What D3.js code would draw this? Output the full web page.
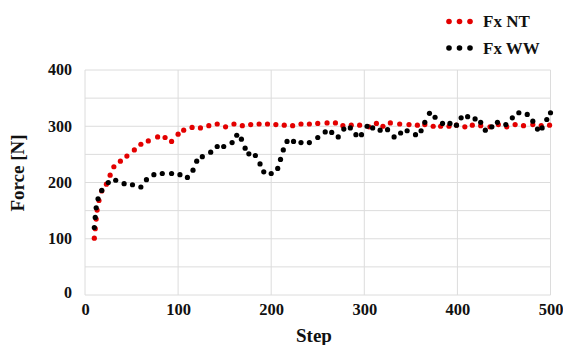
<!DOCTYPE html>
<html>
<head>
<meta charset="utf-8">
<script src="https://cdn.jsdelivr.net/npm/d3@7"></script>
<style>
  body { margin: 0; background: #fff; }
  svg text { font-family: "Liberation Serif", "Times New Roman", serif; font-weight: bold; fill: #111; }
</style>
</head>
<body>
<svg id="chart" width="563" height="345"></svg>
<script>
// Fx NT (red) [step, force]
const ntSteps = [10,11,12,13,15,18,23,27,31,38,45,53,60,68,78,86,93,100,106,115,124,133,142,151,160,169,178,187,196,205,214,223,232,241,250,260,269,277,286,295,305,313,320,328,338,348,357,365,374,382,391,399,408,416,425,435,444,453,462,471,481,490,499];
const ntForce = [101,118,135,151,168,185,197,213,228,238,247,258,268,274,281,280,273,286,293,298,297,301,304,299,304,301,303,304,304,303,302,301,304,304,305,306,306,301,302,302,299,305,300,306,304,303,302,303,300,300,300,302,299,302,301,299,303,299,303,301,303,301,302];

// Fx WW (black)
const wwSteps = [10,11,12,14,18,25,33,42,51,60,66,74,83,93,102,110,116,120,126,135,142,149,158,163,168,172,176,183,188,192,200,207,210,213,217,224,232,241,250,258,265,272,278,285,291,297,303,309,317,325,332,339,346,355,361,365,370,376,384,392,399,404,411,419,425,430,437,443,452,459,466,475,481,486,491,496,500];
const wwForce = [120,138,155,171,186,200,204,198,196,192,205,214,216,216,214,209,222,238,246,254,264,264,271,284,277,261,251,248,233,219,216,225,241,258,273,273,271,271,280,290,289,281,295,297,285,285,300,297,293,294,281,288,292,285,292,307,323,316,305,305,302,315,317,313,307,293,299,307,303,315,324,321,309,295,297,312,324];

const xTicks = [0,100,200,300,400,500];
const yTicks = [0,100,200,300,400];
const yGrid = [50,100,150,200,250,300,350,400];
const seriesNames = ["Fx NT", "Fx WW"];
const seriesColors = ["#e30000", "#000000"];

const svg = d3.select("#chart");
const x = d3.scaleLinear().domain([0, 500]).range([85, 550.5]);
const y = d3.scaleLinear().domain([0, 400]).range([295, 70]);

// grid + frame
svg.append("g").selectAll("line.h")
  .data(yGrid).enter().append("line")
  .attr("x1", x(0)).attr("x2", x(500))
  .attr("y1", d => y(d)).attr("y2", d => y(d))
  .attr("stroke", "#dcdcdc").attr("stroke-width", 1);
svg.append("g").selectAll("line.v")
  .data(xTicks.slice(1)).enter().append("line")
  .attr("x1", d => x(d)).attr("x2", d => x(d))
  .attr("y1", y(0)).attr("y2", y(400))
  .attr("stroke", "#dcdcdc").attr("stroke-width", 1);
svg.append("line")
  .attr("x1", x(0)).attr("x2", x(0)).attr("y1", y(0)).attr("y2", y(400))
  .attr("stroke", "#dcdcdc");
svg.append("line")
  .attr("x1", x(0)).attr("x2", x(500)).attr("y1", y(0)).attr("y2", y(0))
  .attr("stroke", "#dcdcdc");

// axes (labels only)
const xAxis = svg.append("g")
  .attr("transform", "translate(0," + 312 + ")")
  .call(d3.axisBottom(x).tickValues(xTicks).tickSize(0).tickPadding(0));
xAxis.select(".domain").remove();
xAxis.selectAll("text").style("font-size", "16.5px").attr("dy", "0.2em");

const yAxis = svg.append("g")
  .attr("transform", "translate(72,0)")
  .call(d3.axisLeft(y).tickValues(yTicks).tickSize(0).tickPadding(0));
yAxis.select(".domain").remove();
yAxis.selectAll("text").style("font-size", "16px").attr("dy", "0.3em");
yAxis.selectAll(".tick").filter(d => d === 0).select("text").attr("dy", "0.15em");

svg.append("text")
  .attr("transform", "translate(24,173) rotate(-90)")
  .attr("text-anchor", "middle")
  .style("font-size", "19px")
  .text("Force [N]");
svg.append("text")
  .attr("x", 314).attr("y", 342)
  .attr("text-anchor", "middle")
  .style("font-size", "19px")
  .text("Step");

// points
const nt = ntSteps.map((s, i) => [s, ntForce[i]]);
const ww = wwSteps.map((s, i) => [s, wwForce[i]]);
svg.append("g").selectAll("circle")
  .data(nt).enter().append("circle")
  .attr("cx", d => x(d[0])).attr("cy", d => y(d[1]))
  .attr("r", 2.6).attr("fill", seriesColors[0]);
svg.append("g").selectAll("circle")
  .data(ww).enter().append("circle")
  .attr("cx", d => x(d[0])).attr("cy", d => y(d[1]))
  .attr("r", 2.6).attr("fill", seriesColors[1]);

// legend
const legend = svg.append("g");
seriesNames.forEach((name, i) => {
  const ly = 21.5 + i * 26.5;
  legend.selectAll("circle.s" + i)
    .data([449, 459.5, 470]).enter().append("circle")
    .attr("cx", d => d).attr("cy", ly)
    .attr("r", 2.8).attr("fill", seriesColors[i]);
  legend.append("text")
    .attr("x", 483).attr("y", ly + 5.5)
    .style("font-size", "17px")
    .text(name);
});
</script>
</body>
</html>
